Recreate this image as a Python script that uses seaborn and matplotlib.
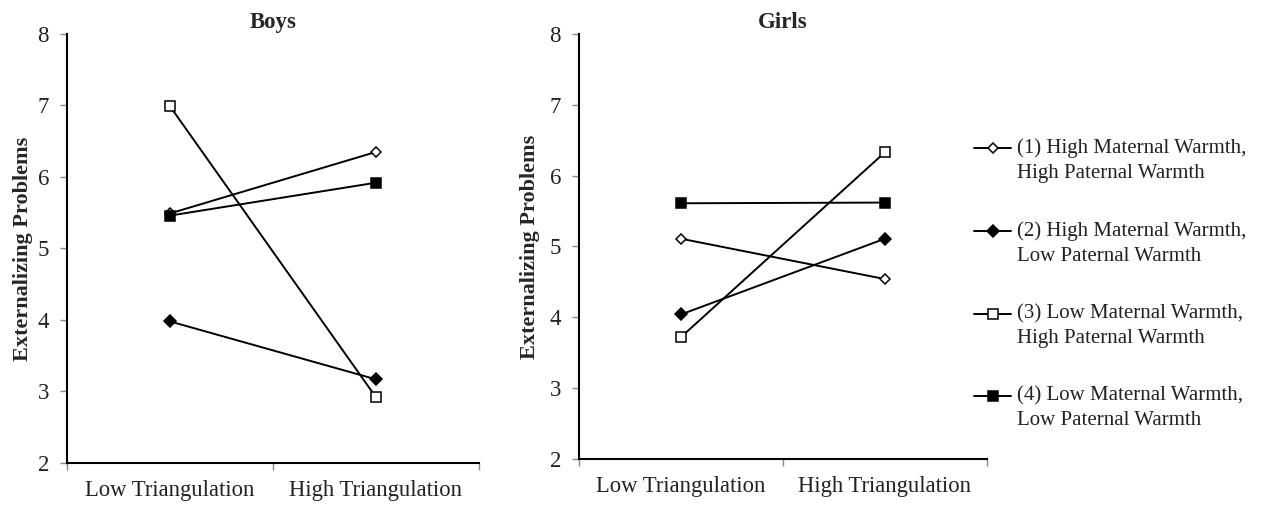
import matplotlib
matplotlib.use("Agg")
import numpy as np
import matplotlib.pyplot as plt
import seaborn as sns
import pandas as pd
from matplotlib.lines import Line2D
from matplotlib.legend_handler import HandlerLine2D

sns.set_theme(style="ticks")
plt.rcParams['font.family'] = ['Liberation Serif', 'DejaVu Serif']

categories = ["Low Triangulation", "High Triangulation"]
series_labels = [
    "(1) High Maternal Warmth,\nHigh Paternal Warmth",
    "(2) High Maternal Warmth,\nLow Paternal Warmth",
    "(3) Low Maternal Warmth,\nHigh Paternal Warmth",
    "(4) Low Maternal Warmth,\nLow Paternal Warmth",
]
boys_1 = [5.49, 6.35]
boys_2 = [3.98, 3.17]
boys_3 = [6.99, 2.92]
boys_4 = [5.46, 5.92]
girls_1 = [5.11, 4.54]
girls_2 = [4.04, 5.11]
girls_3 = [3.72, 6.33]
girls_4 = [5.61, 5.62]
y_ticks = [2, 3, 4, 5, 6, 7, 8]

boys = [boys_1, boys_2, boys_3, boys_4]
girls = [girls_1, girls_2, girls_3, girls_4]

styles = [
    dict(marker="D", markerfacecolor="white", markersize=5.5),
    dict(marker="D", markerfacecolor="black", markersize=6),
    dict(marker="s", markerfacecolor="white", markersize=6.5),
    dict(marker="s", markerfacecolor="black", markersize=7),
]

fig = plt.figure(figsize=(12.63, 5.08), dpi=100)
ax_b = fig.add_axes([0.0530, 0.0886, 0.3262, 0.8445])
ax_g = fig.add_axes([0.4584, 0.0965, 0.3230, 0.8366])

for ax, data, title, lpad in [(ax_b, boys, "Boys", 3.2), (ax_g, girls, "Girls", 7)]:
    for vals, st in zip(data, styles):
        df = pd.DataFrame({"cond": categories, "val": vals})
        sns.lineplot(data=df, x="cond", y="val", ax=ax, color="black",
                     linewidth=1.4, markeredgecolor="black",
                     markeredgewidth=1.1, legend=False, **st)
    ax.set_xlim(-0.5, 1.5)
    ax.set_ylim(2, 8)
    ax.set_yticks(y_ticks)
    ax.set_xticks([0, 1])
    ax.set_xticklabels(categories)
    ax.set_xticks([-0.5, 0.5, 1.5], minor=True)
    ax.tick_params(axis="x", which="major", length=0, pad=12.5, labelsize=16.3, colors="#222222")
    ax.tick_params(axis="x", which="minor", length=5, width=1, direction="out", color="#888888")
    ax.tick_params(axis="y", length=5, width=1, direction="out", labelsize=16.5, pad=8,
                   color="#888888", labelcolor="#222222")
    ax.set_xlabel("")
    ax.set_ylabel("Externalizing Problems", fontsize=16, fontweight="bold", labelpad=lpad)
    ax.set_title(title, fontsize=16.5, fontweight="bold", pad=4)
    sns.despine(ax=ax)
    for sp in ["left", "bottom"]:
        ax.spines[sp].set_linewidth(1.5)
        ax.spines[sp].set_color("black")


class FirstLineHandler(HandlerLine2D):
    def __init__(self, shift, **kw):
        super().__init__(**kw)
        self.shift = shift

    def create_artists(self, legend, orig_handle, xdescent, ydescent, width,
                       height, fontsize, trans):
        arts = super().create_artists(legend, orig_handle, xdescent, ydescent,
                                      width, height, fontsize, trans)
        for a in arts:
            a.set_ydata(np.asarray(a.get_ydata(), dtype=float) + self.shift)
        return arts


handles = [Line2D([0], [0], color="black", linewidth=1.4, markeredgecolor="black",
                  markeredgewidth=1.1, **st) for st in styles]
leg = fig.legend(handles, series_labels, loc="upper left", bbox_to_anchor=(0.7648, 0.744),
                 frameon=False, fontsize=15, handlelength=1.78, handletextpad=0.25,
                 labelspacing=1.85, borderaxespad=0,
                 handler_map={Line2D: FirstLineHandler(8.6)})
for t in leg.get_texts():
    t.set_linespacing(1.4)
    t.set_color("#222222")

fig.savefig("out.png", dpi=100)
